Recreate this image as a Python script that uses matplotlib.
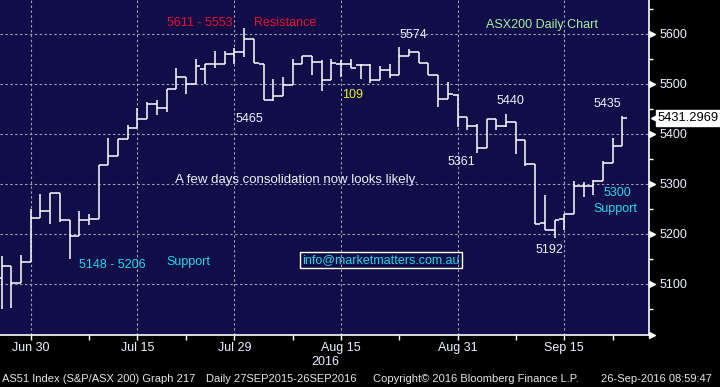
import matplotlib
matplotlib.use("Agg")
import matplotlib.pyplot as plt
import matplotlib.transforms as mtransforms
import numpy as np

plt.rcParams['font.family'] = ['Liberation Sans', 'DejaVu Sans']

# ASX200 daily bars, 27 Jun 2016 - 23 Sep 2016 (trading days)
opens = [5112, 5136, 5102, 5143, 5232, 5246, 5282, 5228, 5196, 5228,
         5230, 5338, 5355, 5390, 5412, 5430, 5459, 5452, 5490, 5513,
         5499, 5529, 5540, 5540, 5560, 5564, 5589, 5540, 5467, 5476,
         5498, 5539, 5555, 5543, 5508, 5540, 5540, 5537, 5537, 5507,
         5528, 5517, 5555, 5563, 5542, 5517, 5470, 5478, 5433, 5416,
         5372, 5430, 5415, 5423, 5387, 5339, 5221, 5208, 5230, 5240,
         5295, 5295, 5305, 5341, 5375]
highs = [5155, 5136, 5157, 5249, 5279, 5282, 5282, 5228, 5245, 5239,
         5338, 5392, 5390, 5417, 5452, 5464, 5467, 5490, 5531, 5513,
         5550, 5539, 5565, 5565, 5572, 5611, 5589, 5540, 5510, 5513,
         5550, 5555, 5555, 5547, 5549, 5548, 5550, 5539, 5539, 5535,
         5539, 5574, 5570, 5563, 5542, 5517, 5503, 5478, 5433, 5420,
         5430, 5430, 5440, 5423, 5387, 5339, 5277, 5228, 5240, 5305,
         5303, 5308, 5345, 5391, 5435]
lows = [5050, 5052, 5102, 5143, 5232, 5220, 5223, 5149, 5196, 5218,
        5230, 5338, 5355, 5390, 5412, 5430, 5437, 5443, 5490, 5480,
        5499, 5500, 5532, 5540, 5540, 5553, 5542, 5467, 5466, 5476,
        5498, 5539, 5517, 5485, 5508, 5513, 5532, 5510, 5502, 5507,
        5512, 5517, 5555, 5542, 5517, 5453, 5470, 5413, 5407, 5361,
        5372, 5407, 5413, 5359, 5335, 5219, 5208, 5192, 5207, 5240,
        5273, 5277, 5305, 5341, 5375]
closes = [5136, 5102, 5143, 5232, 5246, 5282, 5228, 5196, 5228, 5230,
          5338, 5355, 5390, 5412, 5430, 5459, 5452, 5490, 5513, 5499,
          5536, 5539, 5540, 5559, 5564, 5589, 5542, 5467, 5476, 5498,
          5539, 5555, 5543, 5508, 5541, 5540, 5532, 5537, 5507, 5528,
          5517, 5555, 5563, 5542, 5517, 5470, 5479, 5433, 5416, 5372,
          5430, 5415, 5423, 5387, 5339, 5219, 5208, 5228, 5240, 5295,
          5295, 5305, 5341, 5375, 5431.2969]

major_idx = [3, 14, 24, 35, 47, 58]
major_labels = ['Jun 30', 'Jul 15', 'Jul 29', 'Aug 15', 'Aug 31', 'Sep 15']
minor_idx = [9, 19, 30, 41, 53, 63]
y_ticks = [5100, 5200, 5300, 5400, 5500, 5600]
last_price = 5431.2969

bg = '#100d48'
white = '#eef2ff'
red = '#e8102a'
cyan = '#20d8e8'

fig = plt.figure(figsize=(7.2, 3.87), dpi=100, facecolor='black')
ax = fig.add_axes([0, 1 - 335 / 387, 649 / 720, 335 / 387])
ax.set_facecolor(bg)

x = np.arange(len(opens))
ax.vlines(x, lows, highs, color='white', lw=1.1)
ax.hlines(opens, x - 0.5, x, color='white', lw=1.1)
ax.hlines(closes, x, x + 0.5, color='white', lw=1.1)

ax.set_xlim(-0.165, 66.74)
ax.set_ylim(4997, 5667)

# axes / ticks
for s in ['left', 'top']:
    ax.spines[s].set_visible(False)
for s in ['right', 'bottom']:
    ax.spines[s].set_color('white')
    ax.spines[s].set_linewidth(1.2)

ax.yaxis.tick_right()
ax.set_yticks(y_ticks)
ax.set_yticks(np.arange(5050, 5651, 100), minor=True)
ax.tick_params(axis='y', which='major', length=0, pad=7.5, labelsize=9, labelcolor=white)
ax.tick_params(axis='y', which='minor', length=3, width=1, color='white', direction='out')

ax.set_xticks(major_idx)
ax.set_xticklabels(major_labels)
ax.set_xticks(minor_idx, minor=True)
ax.tick_params(axis='x', which='both', length=3.5, width=1, color='white', direction='out')
ax.tick_params(axis='x', which='major', pad=1.5, labelsize=9, labelcolor=white)

ax.set_axisbelow(True)
ax.grid(True, which='major', color='#a0a0b0', linestyle=(0, (2.2, 2.2)), lw=0.8)

# triangle pointers on the price axis
trans = mtransforms.offset_copy(ax.get_yaxis_transform(), fig=fig, x=3, y=0, units='dots')
for yv in y_ticks + [4997]:
    ax.plot(1.0, yv, marker='>', ms=5, color='white', mec='white', transform=trans, clip_on=False)

# last price tag
ytr = ax.get_yaxis_transform()
ax.plot(1.0, last_price, marker='<', ms=6, color='white', transform=mtransforms.offset_copy(
    ytr, fig=fig, x=6, y=0, units='dots'), clip_on=False)
ax.text(1.0, last_price, '5431.2969', transform=mtransforms.offset_copy(ytr, fig=fig, x=9, y=0, units='dots'),
        ha='left', va='center', fontsize=9.3, color='black',
        bbox=dict(boxstyle='square,pad=0.14', fc='white', ec='white'), clip_on=False)

# annotations
def note(xv, yv, s, c, size=9, **kw):
    ax.text(xv, yv, s, color=c, fontsize=size, ha='left', va='center', **kw)

note(17.05, 5621, '5611 - 5553', red)
note(26.0, 5622, 'Resistance', red)
note(49.9, 5617, 'ASX200 Daily Chart', '#a8f0a0')
note(41.0, 5597, '5574', white)
note(35.1, 5477, '109', '#f0f020')
note(24.1, 5429, '5465', white)
note(51.0, 5465, '5440', white)
note(61.0, 5459, '5435', white)
note(46.0, 5343, '5361', white)
note(17.9, 5307, 'A few days consolidation now looks likely.', white, size=9.5)
note(8.0, 5137, '5148 - 5206', cyan)
note(17.0, 5143, 'Support', cyan)
note(55.0, 5167, '5192', white)
note(62.0, 5281, '5300', cyan)
note(61.0, 5249, 'Support', cyan)
note(31.0, 5147, 'info@marketmatters.com.au', cyan,
     bbox=dict(boxstyle='square,pad=0.15', fc='none', ec='white', lw=1))

# footer
fig.text(325 / 720, 1 - 362 / 387, '2016', color=white, fontsize=9, ha='center', va='center')
foot = '#e4e4e4'
fy = 1 - 379 / 387
fig.text(2 / 720, fy, 'AS51 Index (S&P/ASX 200) Graph 217', color=foot, fontsize=8, va='center')
fig.text(206 / 720, fy, 'Daily 27SEP2015-26SEP2016', color=foot, fontsize=8, va='center')
fig.text(373 / 720, fy, 'Copyright\u00a9 2016 Bloomberg Finance L.P.', color=foot, fontsize=8, va='center')
fig.text(601 / 720, fy, '26-Sep-2016 08:59:47', color=foot, fontsize=8, va='center')

fig.savefig('out.png', dpi=100, facecolor='black')
